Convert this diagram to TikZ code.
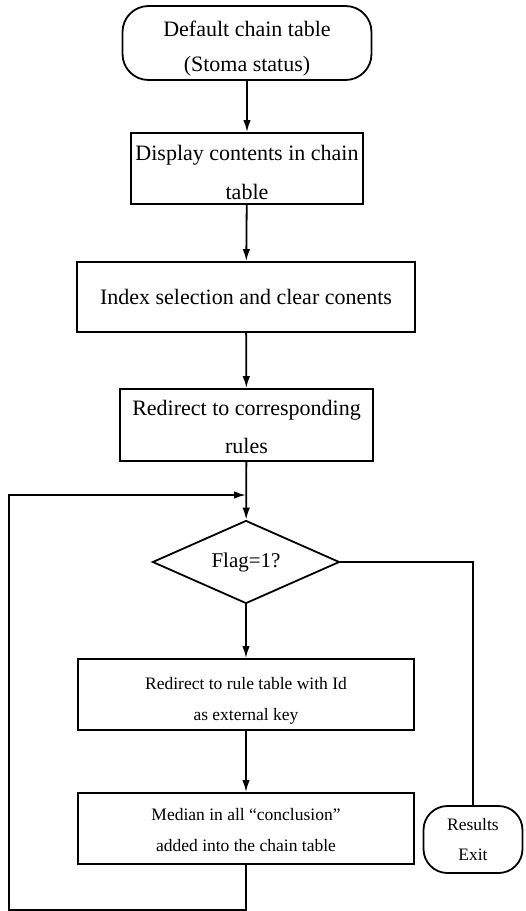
\documentclass[tikz,border=0pt]{standalone}
\usepackage{fontspec}
\setmainfont{Liberation Serif}
\usetikzlibrary{shapes.geometric,arrows.meta}

% taller first line pushes the text block down a little
\newcommand{\lift}[1]{\rule{0pt}{#1}}

\tikzset{
  box/.style={draw, rectangle, line width=1.8pt, inner sep=0pt, align=center},
  term/.style={box, rounded corners=26pt},
  big/.style={font=\fontsize{22}{38}\selectfont},
  small/.style={font=\fontsize{17.5}{31}\selectfont},
  arr/.style={line width=1.8pt, -{Latex[length=12pt,width=7.5pt]}},
  conn/.style={line width=1.8pt}
}

\begin{document}
\begin{tikzpicture}[x=1pt, y=-1pt]
  \useasboundingbox (0,0) rectangle (526,911);
  % main column
  \node[term, font=\fontsize{22}{35}\selectfont, minimum width=249pt, minimum height=74pt] (start) at (247,43) {\lift{27pt}Default chain table\\(Stoma status)};
  \node[box, font=\fontsize{22}{39}\selectfont, minimum width=232pt, minimum height=71pt] (disp) at (247,168.5) {\lift{23pt}Display contents in chain\\table};
  \node[box, big, minimum width=338pt, minimum height=70pt] (index) at (246,297) {Index selection and clear conents};
  \node[box, big, minimum width=253pt, minimum height=72pt] (redir) at (246.5,425) {\lift{19pt}Redirect to corresponding\\rules};
  \node[draw, diamond, line width=1.8pt, aspect=2.25, inner sep=0pt, minimum width=187pt, minimum height=83pt, font=\fontsize{21}{25}\selectfont] (flag) at (246,562) {Flag=1?};
  \node[box, small, minimum width=336pt, minimum height=71pt] (ruletab) at (246,694.5) {\lift{24pt}Redirect to rule table with Id\\as external key};
  \node[box, small, minimum width=336pt, minimum height=71pt] (median) at (246,828.5) {\lift{16pt}Median in all ``conclusion''\\added into the chain table};
  \node[term, rounded corners=24pt, minimum width=99pt, minimum height=67pt, font=\fontsize{17.5}{30}\selectfont] (exit) at (473,839.5) {Results\\Exit};
  % loop corners
  \coordinate (loopin) at (246,495);
  \coordinate (lowleft) at (9,910);

  \draw[arr] (start) -- (disp);
  \draw[arr] (disp) -- (index);
  \draw[arr] (index) -- (redir);
  \draw[arr] (redir) -- (flag);
  \draw[arr] (flag) -- (ruletab);
  \draw[arr] (ruletab) -- (median);
  \draw[conn] (flag.east) -| (exit.north);
  \draw[arr] (median.south) |- (lowleft) |- (loopin);
\end{tikzpicture}
\end{document}
